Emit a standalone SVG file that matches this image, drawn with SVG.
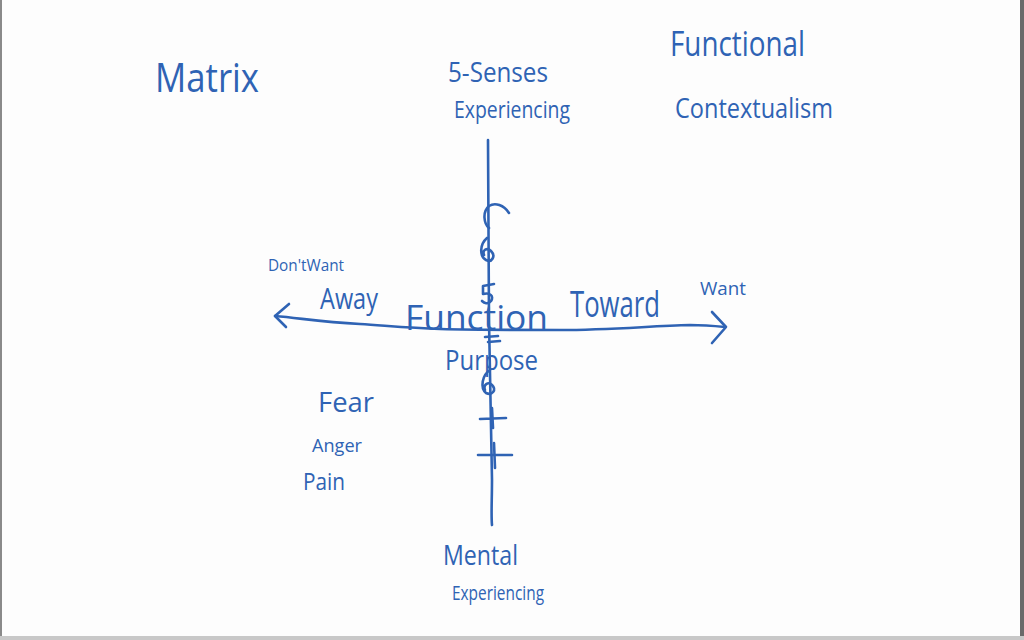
<svg xmlns="http://www.w3.org/2000/svg" width="1024" height="640" viewBox="0 0 1024 640">
<style>
.t{font-family:"Open Sans","Liberation Sans",sans-serif;fill:#2f63b4;font-weight:400}
.s{fill:none;stroke:#2f63b4;stroke-width:2.6;stroke-linecap:round;stroke-linejoin:round}
</style>
<rect x="0" y="0" width="1024" height="640" fill="#fdfdfd"/>
<rect x="0" y="0" width="2" height="640" fill="#8a8a8a"/>
<rect x="1020" y="0" width="4" height="640" fill="#6a6a6a"/>
<rect x="0" y="636" width="1024" height="4" fill="#c8c8c8"/>

<g id="connectors">
  <path class="s" d="M275,316 C300,318 320,322 360,324 C390,326 410,328 440,329 C480,330 520,330 560,330 C610,330 650,326 690,325 C705,325 715,326 725,327"/>
  <path class="s" d="M289,304 L275,316 L286,327"/>
  <path class="s" d="M712,312 L726,327 L712,343"/>
  <path class="s" d="M488,140 C488,200 489,260 489,320 C490,380 491,440 492,480 C492,500 491,515 492,525"/>
  <g id="axis-marks">
    <path class="s" d="M509,213 C504,205 495,202 489,206 C482,212 484,224 489,228"/>
    <path class="s" d="M487,238 C480,244 479,256 486,260 C492,263 496,256 491,251 C487,247 482,250 484,255"/>
    <path class="s" d="M494,284 L483,286 L483,294 C490,292 494,296 491,301 C488,305 484,303 482,301"/>
    <path class="s" d="M485,337 L498,336 M488,342 L500,341"/>
    <path class="s" d="M490,370 C482,375 480,388 486,393 C492,396 497,390 492,385 C488,381 483,385 485,390"/>
    <path class="s" d="M480,419 L506,418 M492,408 L493,428"/>
    <path class="s" d="M478,455 L512,455 M494,443 L495,468"/>
  </g>
</g>

<g id="title-matrix"><text class="t" x="155" y="92" font-size="40" textLength="104" lengthAdjust="spacingAndGlyphs">Matrix</text></g>
<g id="title-fc">
  <text class="t" x="670" y="56" font-size="34" textLength="135" lengthAdjust="spacingAndGlyphs">Functional</text>
  <text class="t" x="675" y="118" font-size="28" textLength="158" lengthAdjust="spacingAndGlyphs">Contextualism</text>
</g>
<g id="top-label">
  <text class="t" x="448" y="82" font-size="28" textLength="100" lengthAdjust="spacingAndGlyphs">5-Senses</text>
  <text class="t" x="454" y="118" font-size="24" textLength="116" lengthAdjust="spacingAndGlyphs">Experiencing</text>
</g>
<g id="bottom-label">
  <text class="t" x="443" y="565" font-size="28" textLength="75" lengthAdjust="spacingAndGlyphs">Mental</text>
  <text class="t" x="452" y="600" font-size="20" textLength="92" lengthAdjust="spacingAndGlyphs">Experiencing</text>
</g>
<g id="left-label">
  <text class="t" x="268" y="271" font-size="16" textLength="76" lengthAdjust="spacingAndGlyphs">Don'tWant</text>
  <text class="t" x="320" y="309" font-size="30" textLength="58" lengthAdjust="spacingAndGlyphs">Away</text>
</g>
<g id="right-label">
  <text class="t" x="570" y="317" font-size="36" textLength="90" lengthAdjust="spacingAndGlyphs">Toward</text>
  <text class="t" x="700" y="295" font-size="18" textLength="46" lengthAdjust="spacingAndGlyphs">Want</text>
</g>
<g id="center-label">
  <text class="t" x="405" y="330" font-size="34" textLength="143" lengthAdjust="spacingAndGlyphs">Function</text>
  <text class="t" x="445" y="370" font-size="28" textLength="93" lengthAdjust="spacingAndGlyphs">Purpose</text>
</g>
<g id="emotions">
  <text class="t" x="318" y="412" font-size="28" textLength="56" lengthAdjust="spacingAndGlyphs">Fear</text>
  <text class="t" x="312" y="452" font-size="18" textLength="50" lengthAdjust="spacingAndGlyphs">Anger</text>
  <text class="t" x="303" y="490" font-size="24" textLength="42" lengthAdjust="spacingAndGlyphs">Pain</text>
</g>
</svg>
